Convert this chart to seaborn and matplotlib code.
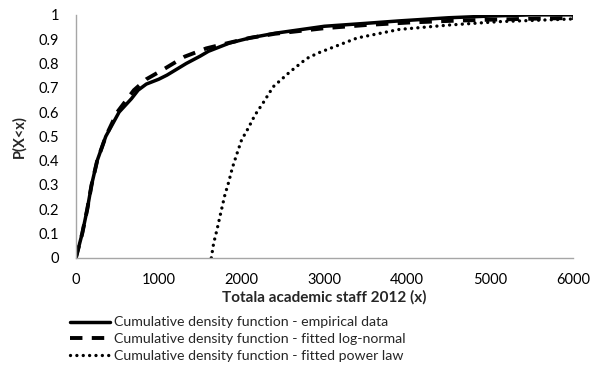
import pandas as pd
import seaborn as sns
import matplotlib.pyplot as plt

# values
emp_x = [0, 76, 137, 189, 257, 361, 522, 671, 751, 850, 1000, 1100, 1333, 1500, 1600,
         1855, 2100, 2400, 3000, 3500, 3900, 4500, 5000, 5500, 6000]
emp_y = [0, 0.1, 0.2, 0.3, 0.4, 0.5, 0.6, 0.655, 0.69, 0.715, 0.735, 0.752, 0.8, 0.83, 0.85,
         0.884, 0.905, 0.924, 0.953, 0.965, 0.975, 0.988, 0.995, 1.0, 1.0]

logn_x = [0, 76, 137, 189, 257, 361, 500, 700, 850, 1050, 1313, 1574, 1850, 2100, 2400,
          3000, 3500, 4000, 4500, 5000, 5500, 6000]
logn_y = [0, 0.1, 0.2, 0.3, 0.4, 0.5, 0.6, 0.69, 0.735, 0.774, 0.828, 0.862, 0.885, 0.905,
          0.922, 0.945, 0.958, 0.968, 0.975, 0.98, 0.984, 0.987]

pow_x = [1635, 1663, 1703, 1743, 1798, 1846, 1887, 1939, 2000, 2080, 2161, 2261, 2382,
         2583, 2785, 2925, 3398, 3904, 4506, 5108, 6000]
pow_y = [0, 0.06, 0.115, 0.176, 0.258, 0.313, 0.368, 0.423, 0.485, 0.533, 0.587, 0.638,
         0.704, 0.765, 0.82, 0.843, 0.905, 0.94, 0.958, 0.972, 0.983]

labels = ['Cumulative density function - empirical data',
          'Cumulative density function - fitted log-normal',
          'Cumulative density function - fitted power law']

sns.set_style('white')
plt.rcParams['font.family'] = ['Lato', 'DejaVu Sans']

fig = plt.figure(figsize=(5.93, 3.71), dpi=100)
ax = fig.add_axes([0.128, 0.305, 0.838, 0.655])

sns.lineplot(x=emp_x, y=emp_y, ax=ax, color='black', lw=2.5, label=labels[0])
sns.lineplot(x=logn_x, y=logn_y, ax=ax, color='black', lw=2.8, linestyle=(0, (3.2, 2.4)),
             label=labels[1])
sns.lineplot(x=pow_x, y=pow_y, ax=ax, color='black', lw=2.4, linestyle=(0, (0.01, 1.9)),
             dash_capstyle='round', label=labels[2])

ax.set_xlim(0, 6000)
ax.set_ylim(0, 1)
ax.set_xticks(range(0, 6001, 1000))
ax.set_yticks([i / 10 for i in range(11)])
ax.set_yticklabels(['0', '0.1', '0.2', '0.3', '0.4', '0.5', '0.6', '0.7', '0.8', '0.9', '1'])

for s in ['top', 'right']:
    ax.spines[s].set_visible(False)
for s in ['left', 'bottom']:
    ax.spines[s].set_color('#a6a6a6')
    ax.spines[s].set_linewidth(1.0)
ax.tick_params(axis='both', which='major', direction='out', length=4, width=1,
               color='#a6a6a6', labelsize=10.5, labelcolor='black')
ax.tick_params(axis='y', pad=8)
ax.tick_params(axis='x', pad=7)

ax.set_xlabel('Totala academic staff 2012 (x)', fontsize=11, fontweight='bold', labelpad=2)
ax.set_ylabel('P(X<x)', fontsize=10.5, fontweight='bold', labelpad=9)

ax.legend_.remove()
handles, lbls = ax.get_legend_handles_labels()
fig.legend(handles, lbls, loc='upper left', bbox_to_anchor=(0.118, 0.147), frameon=False,
           fontsize=10.2, handlelength=2.85, handletextpad=0.25, labelspacing=0.33,
           borderpad=0, borderaxespad=0)

fig.savefig('out.png', dpi=100)
